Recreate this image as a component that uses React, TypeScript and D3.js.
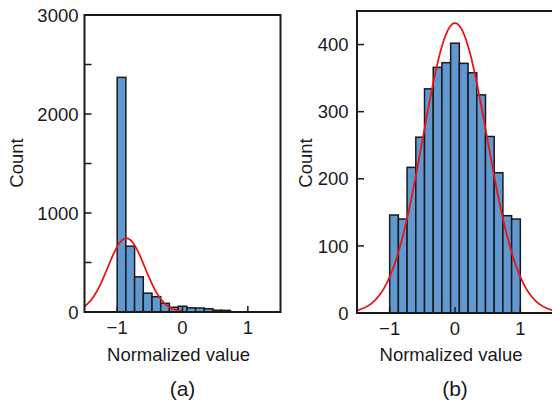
import React from "react";
import * as d3 from "d3";

// bin edges: 15 equal bins from -1 to 1
const binStart = -1;
const binEnd = 1;
const binCount = 15;

const countsA = [2370, 665, 355, 190, 155, 88, 48, 58, 42, 40, 33, 18, 16, 0, 0];
const countsB = [146, 140, 217, 262, 334, 366, 373, 402, 372, 358, 325, 263, 209, 145, 140];

// fitted normal curves
const fitA = { mean: -0.86, sd: 0.283, peak: 745, from: -1.5, to: 0 };
const fitB = { mean: 0, sd: 0.49, peak: 432, from: -1.5, to: 1.5 };

const xTicks = [-1, 0, 1];
const yTicksA = [0, 500, 1000, 1500, 2000, 2500, 3000];
const yLabelsA = [0, 1000, 2000, 3000];
const yTicksB = [0, 100, 200, 300, 400];
const yLabelsB = [0, 100, 200, 300, 400];

const FONT = "'Liberation Sans', Arial, Helvetica, sans-serif";
const BAR_FILL = "#6298d0";
const INK = "#1a1a1a";
const FS = 18.5;

type PanelProps = {
  left: number;
  right: number;
  top: number;
  bottom: number;
  yMax: number;
  counts: number[];
  fit: { mean: number; sd: number; peak: number; from: number; to: number };
  yTicks: number[];
  yLabels: number[];
  labelGap: number;
  countX: number;
  letter: string;
};

function Panel(p: PanelProps) {
  const x = d3.scaleLinear().domain([-1.5, 1.5]).range([p.left, p.right]);
  const y = d3.scaleLinear().domain([0, p.yMax]).range([p.bottom, p.top]);
  const w = (binEnd - binStart) / binCount;
  const bins = p.counts.map((c, i) => ({ x0: binStart + i * w, x1: binStart + (i + 1) * w, c }));
  const curvePts = d3.range(0, 201).map((i) => {
    const xv = p.fit.from + ((p.fit.to - p.fit.from) * i) / 200;
    const yv = p.fit.peak * Math.exp(-((xv - p.fit.mean) ** 2) / (2 * p.fit.sd * p.fit.sd));
    return [xv, yv] as [number, number];
  });
  const line = d3
    .line<[number, number]>()
    .x((d) => x(d[0]))
    .y((d) => y(d[1]));
  const cx = (p.left + p.right) / 2;
  const fmt = (v: number) => (v < 0 ? "\u2212" + Math.abs(v) : String(v));
  return (
    <g>
      {bins
        .filter((b) => b.c > 0)
        .map((b, i) => (
          <rect
            key={i}
            x={x(b.x0)}
            y={y(b.c)}
            width={x(b.x1) - x(b.x0)}
            height={y(0) - y(b.c)}
            fill={BAR_FILL}
            stroke={INK}
            strokeWidth={1.5}
          />
        ))}
      <path d={line(curvePts) || ""} fill="none" stroke="#e8161b" strokeWidth={1.8} />
      {p.yTicks.map((t) => (
        <line key={"yt" + t} x1={p.left} x2={p.left + 7} y1={y(t)} y2={y(t)} stroke={INK} strokeWidth={1.5} />
      ))}
      {xTicks.map((t) => (
        <line key={"xt" + t} x1={x(t)} x2={x(t)} y1={p.bottom} y2={p.bottom - 6} stroke={INK} strokeWidth={1.5} />
      ))}
      <rect
        x={p.left}
        y={p.top}
        width={p.right - p.left}
        height={p.bottom - p.top}
        fill="none"
        stroke={INK}
        strokeWidth={2}
      />
      {p.yLabels.map((t) => (
        <text
          key={"yl" + t}
          x={p.left - p.labelGap}
          y={y(t)}
          dy="0.36em"
          textAnchor="end"
          fontSize={FS}
          fontFamily={FONT}
          fill={INK}
        >
          {t}
        </text>
      ))}
      {xTicks.map((t) => (
        <text
          key={"xl" + t}
          x={x(t)}
          y={p.bottom + 22}
          textAnchor="middle"
          fontSize={FS}
          fontFamily={FONT}
          fill={INK}
        >
          {fmt(t)}
        </text>
      ))}
      <text x={cx - 4} y={361} textAnchor="middle" fontSize={FS} fontFamily={FONT} fill={INK}>
        Normalized value
      </text>
      <text
        transform={`translate(${p.countX},${163}) rotate(-90)`}
        textAnchor="middle"
        fontSize={FS}
        fontFamily={FONT}
        fill={INK}
      >
        Count
      </text>
      <text x={cx} y={396} textAnchor="middle" fontSize={21} fontFamily={FONT} fill={INK}>
        {p.letter}
      </text>
    </g>
  );
}

export default function App() {
  return (
    <svg
      width={552}
      height={406}
      style={{ position: "absolute", left: 0, top: 0, background: "#fff" }}
    >
      <rect width={552} height={406} fill="#fff" />
      <Panel
        left={84.5}
        right={280.5}
        top={15}
        bottom={312}
        yMax={3000}
        counts={countsA}
        fit={fitA}
        yTicks={yTicksA}
        yLabels={yLabelsA}
        labelGap={6}
        countX={23}
        letter="(a)"
      />
      <Panel
        left={357}
        right={553}
        top={11}
        bottom={313}
        yMax={450}
        counts={countsB}
        fit={fitB}
        yTicks={yTicksB}
        yLabels={yLabelsB}
        labelGap={8.5}
        countX={311.5}
        letter="(b)"
      />
    </svg>
  );
}
